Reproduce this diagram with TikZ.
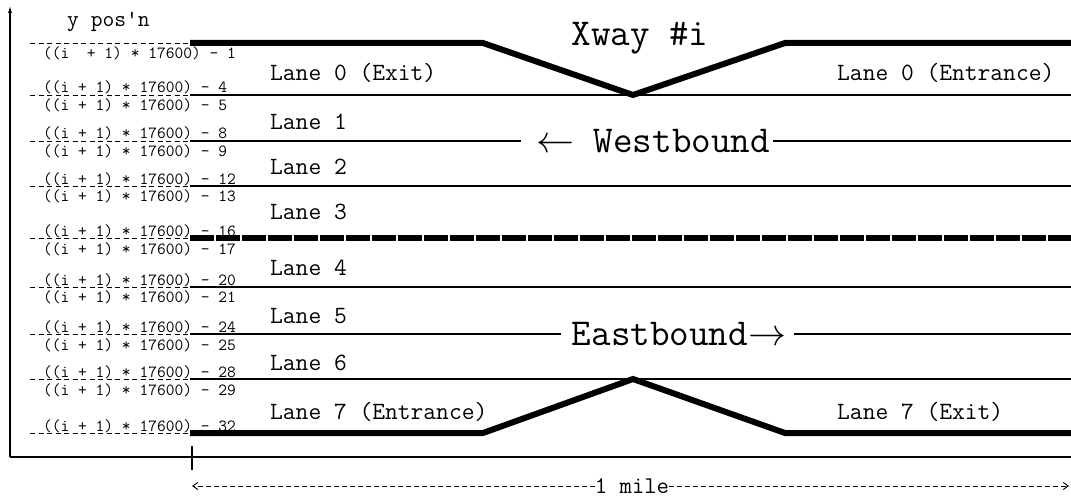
\RequirePackage{fix-cm}
\documentclass[tikz,border=0pt]{standalone}
\usepackage{fontspec}
\usetikzlibrary{arrows.meta, calc}

\begin{document}
\begin{tikzpicture}[
    x=1pt, y=-1pt,
    ypos/.style={font=\ttfamily\fontsize{17}{17}\selectfont, inner sep=0pt, anchor=north west},
    yposup/.style={font=\ttfamily\fontsize{17}{17}\selectfont, inner sep=0pt, anchor=base west},
    lane/.style={font=\ttfamily\fontsize{24.8}{25}\selectfont, inner sep=0pt, anchor=west},
    big/.style={font=\ttfamily\fontsize{38}{38}\selectfont, inner sep=0pt},
    lead/.style={line width=0.9pt, dash pattern=on 5pt off 3.5pt},
    road/.style={line width=1.4pt},
    curb/.style={line width=6pt},
    median/.style={line width=6.5pt, dash pattern=on 24pt off 2pt},
    axis/.style={line width=1.5pt},
    dim/.style={line width=0.9pt, dash pattern=on 5pt off 3pt, -{Straight Barb[length=5pt, width=7pt]}},
]
\useasboundingbox (0,0) rectangle (1071,500);
\draw[lead] (30,43) -- (190,43);
\draw[lead] (30,95) -- (190,95);
\draw[lead] (30,141) -- (190,141);
\draw[lead] (30,186) -- (190,186);
\draw[lead] (30,238) -- (190,238);
\draw[lead] (30,287) -- (190,287);
\draw[lead] (30,334) -- (190,334);
\draw[lead] (30,379) -- (190,379);
\draw[lead] (30,433) -- (190,433);
\draw[curb] (190,43) -- (483,43) -- (633,95) -- (785,43) -- (1071,43);
\draw[curb] (190,433) -- (483,433) -- (633,379) -- (785,433) -- (1071,433);
\draw[median] (190,238) -- (1071,238);
\draw[road] (190,95) -- (1071,95);
\draw[road] (190,186) -- (1071,186);
\draw[road] (190,287) -- (1071,287);
\draw[road] (190,379) -- (1071,379);
\node[big] (west) at (653,141) {$\leftarrow$ Westbound};
\draw[road] (190,141) -- ([xshift=-15pt]west.west);
\draw[road] ([xshift=3pt]west.east) -- (1071,141);
\node[big] (east) at (679,334) {Eastbound$\rightarrow$};
\draw[road] (190,334) -- ([xshift=-11pt]east.west);
\draw[road] ([xshift=8pt]east.east) -- (1071,334);
\node[big, anchor=base] (xway) at (640,46) {Xway \#i};
\node[font=\ttfamily\fontsize{22.9}{23}\selectfont, inner sep=0pt, anchor=base west] (ylab) at (67,27) {y pos'n};
\node[ypos] (y1) at (43,47) {((i~~+ 1) * 17600) - 1};
\node[yposup] (y4) at (43,93) {((i + 1) * 17600) - 4};
\node[ypos] (y5) at (43,99) {((i + 1) * 17600) - 5};
\node[yposup] (y8) at (43,139) {((i + 1) * 17600) - 8};
\node[ypos] (y9) at (43,145) {((i + 1) * 17600) - 9};
\node[yposup] (y12) at (43,184) {((i + 1) * 17600) - 12};
\node[ypos] (y13) at (43,190) {((i + 1) * 17600) - 13};
\node[yposup] (y16) at (43,236) {((i + 1) * 17600) - 16};
\node[ypos] (y17) at (43,243) {((i + 1) * 17600) - 17};
\node[yposup] (y20) at (43,285) {((i + 1) * 17600) - 20};
\node[ypos] (y21) at (43,291) {((i + 1) * 17600) - 21};
\node[yposup] (y24) at (43,332) {((i + 1) * 17600) - 24};
\node[ypos] (y25) at (43,338) {((i + 1) * 17600) - 25};
\node[yposup] (y28) at (43,377) {((i + 1) * 17600) - 28};
\node[ypos] (y29) at (43,383) {((i + 1) * 17600) - 29};
\node[yposup] (y32) at (43,431) {((i + 1) * 17600) - 32};
\node[lane] (l0x) at (270,73) {Lane 0 (Exit)};
\node[lane] (l0e) at (837,73) {Lane 0 (Entrance)};
\node[lane] (l1) at (270,122) {Lane 1};
\node[lane] (l2) at (270,167) {Lane 2};
\node[lane] (l3) at (270,212) {Lane 3};
\node[lane] (l4) at (270,268) {Lane 4};
\node[lane] (l5) at (270,316) {Lane 5};
\node[lane] (l6) at (270,363) {Lane 6};
\node[lane] (l7e) at (270,412) {Lane 7 (Entrance)};
\node[lane] (l7x) at (837,412) {Lane 7 (Exit)};
\coordinate (orig) at (10,457);
\draw[axis] (orig) -- (1071,457);
\draw[axis, -{Latex[length=8pt, width=4pt]}] (orig) -- (10,5);
\draw[road] (192,446) -- (192,470);
\node[font=\ttfamily\fontsize{24}{24}\selectfont, inner sep=0pt] (mile) at (632,486) {1 mile};
\draw[dim] (mile.west) -- (192,486);
\draw[dim] (mile.east) -- (1069,486);
\end{tikzpicture}
\end{document}
